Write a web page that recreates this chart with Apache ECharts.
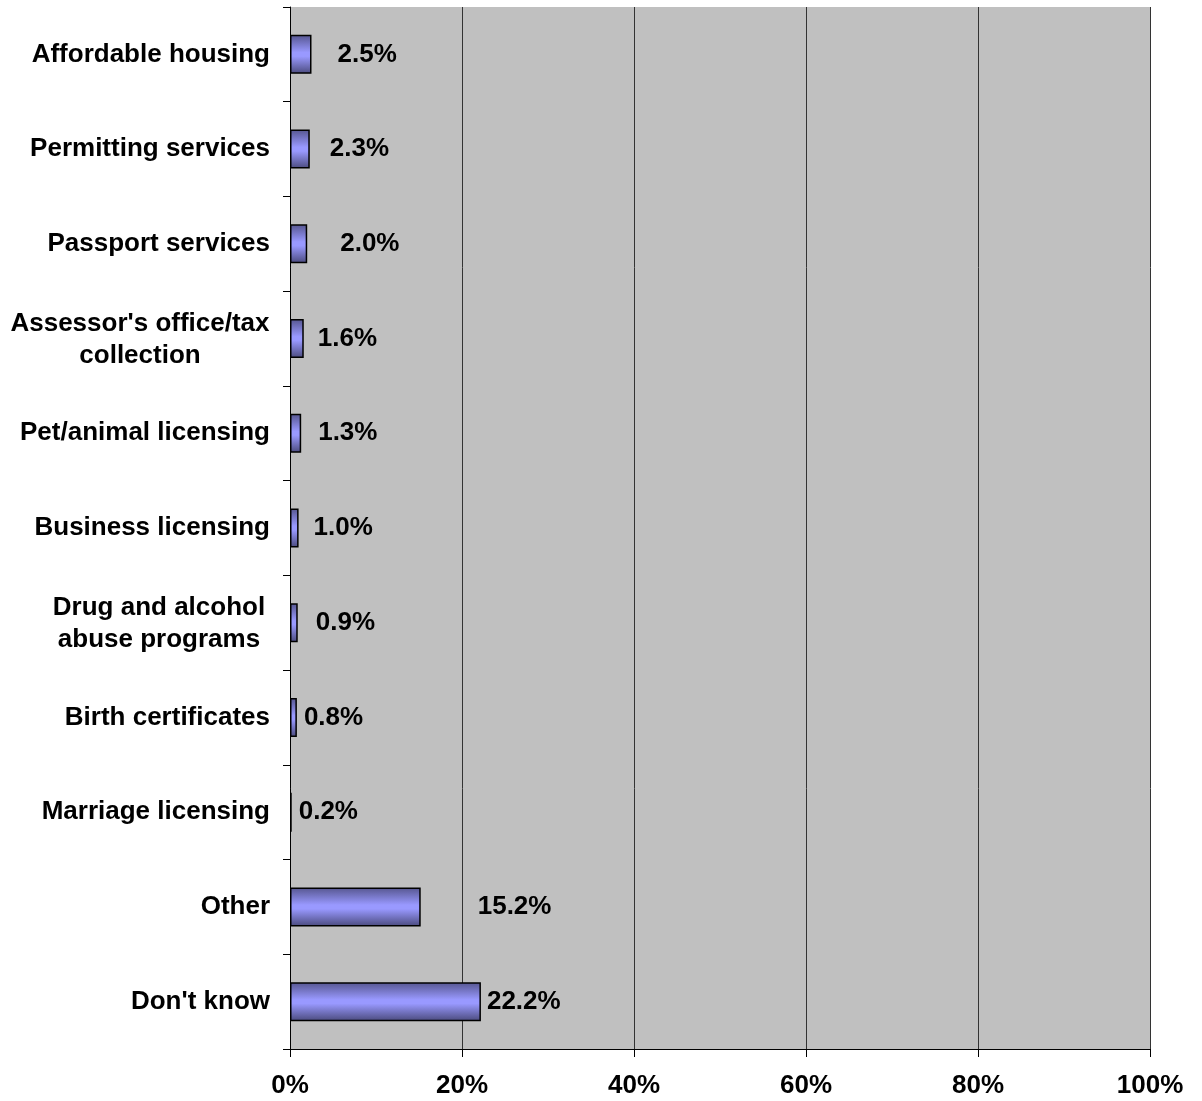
<!DOCTYPE html>
<html>
<head>
<meta charset="utf-8">
<script src="https://cdn.jsdelivr.net/npm/echarts@6/dist/echarts.min.js"></script>
<style>
  html, body { margin: 0; padding: 0; background: #ffffff; }
  #chart { width: 1202px; height: 1101px; }
</style>
</head>
<body>
<div id="chart"></div>
<script>
// Services named by respondents (share of responses, %)
const categories = [
  'Affordable housing',
  'Permitting services',
  'Passport services',
  "Assessor's office/tax\ncollection",
  'Pet/animal licensing',
  'Business licensing',
  'Drug and alcohol\nabuse programs',
  'Birth certificates',
  'Marriage licensing',
  'Other',
  "Don't know"
];
const values = [2.5, 2.3, 2.0, 1.6, 1.3, 1.0, 0.9, 0.8, 0.2, 15.2, 22.2];
const xTicks = [0, 20, 40, 60, 80, 100];

// Gap (px) between each bar end and its value label
const labelGap = [26, 20, 33, 14, 17, 15, 18, 7, 7, 57, 6];
// Block widths for two-line category labels (lines centred within the block)
const blockWidth = { 3: 260, 6: 222 };

const FONT = 'Arial, "Liberation Sans", sans-serif';
const FS = 26;

const chart = echarts.init(document.getElementById('chart'), null, { renderer: 'canvas' });

const yData = categories.map((name, i) => {
  if (blockWidth[i]) {
    const w = blockWidth[i];
    return {
      value: name,
      textStyle: { rich: { c: { width: w, align: 'center', fontSize: FS, fontWeight: 'bold', fontFamily: FONT, color: '#000', lineHeight: 32 } } }
    };
  }
  return name;
});

chart.setOption({
  animation: false,
  backgroundColor: '#ffffff',
  grid: {
    left: 290, right: 52, top: 7, bottom: 52,
    show: true, backgroundColor: '#c0c0c0', borderWidth: 0
  },
  xAxis: {
    type: 'value',
    min: xTicks[0],
    max: xTicks[xTicks.length - 1],
    interval: xTicks[1] - xTicks[0],
    axisLine: { show: true, lineStyle: { color: '#000', width: 1 } },
    axisTick: { show: true, length: 8, lineStyle: { color: '#000', width: 1 } },
    splitLine: { show: true, lineStyle: { color: '#333', width: 1 } },
    axisLabel: {
      formatter: '{value}%',
      margin: 24,
      color: '#000',
      fontSize: FS,
      fontWeight: 'bold',
      fontFamily: FONT
    }
  },
  yAxis: {
    type: 'category',
    inverse: true,
    data: yData,
    axisLine: { show: true, lineStyle: { color: '#000', width: 1 } },
    axisTick: { show: true, length: 7, lineStyle: { color: '#000', width: 1 } },
    splitLine: { show: false },
    axisLabel: {
      margin: 20,
      color: '#000',
      fontSize: FS,
      fontWeight: 'bold',
      fontFamily: FONT,
      lineHeight: 32,
      padding: [3, 0, 0, 0],
      interval: 0,
      formatter: function (val, idx) {
        if (blockWidth[idx]) {
          return val.split('\n').map(l => '{c|' + l + '}').join('\n');
        }
        return val;
      }
    }
  },
  series: [{
    type: 'bar',
    barWidth: 39,
    data: values.map((v, i) => ({
      value: v,
      label: { distance: labelGap[i] }
    })),
    itemStyle: {
      color: new echarts.graphic.LinearGradient(0, 0, 0, 1, [
        { offset: 0, color: '#55558e' },
        { offset: 0.45, color: '#9999ff' },
        { offset: 0.55, color: '#9999ff' },
        { offset: 1, color: '#4a4a7c' }
      ]),
      borderColor: '#000',
      borderWidth: 1.5
    },
    label: {
      show: true,
      position: 'right',
      color: '#000',
      fontSize: FS,
      fontWeight: 'bold',
      fontFamily: FONT,
      padding: [3, 0, 0, 0],
      formatter: p => p.value.toFixed(1) + '%'
    }
  }]
});
</script>
</body>
</html>
